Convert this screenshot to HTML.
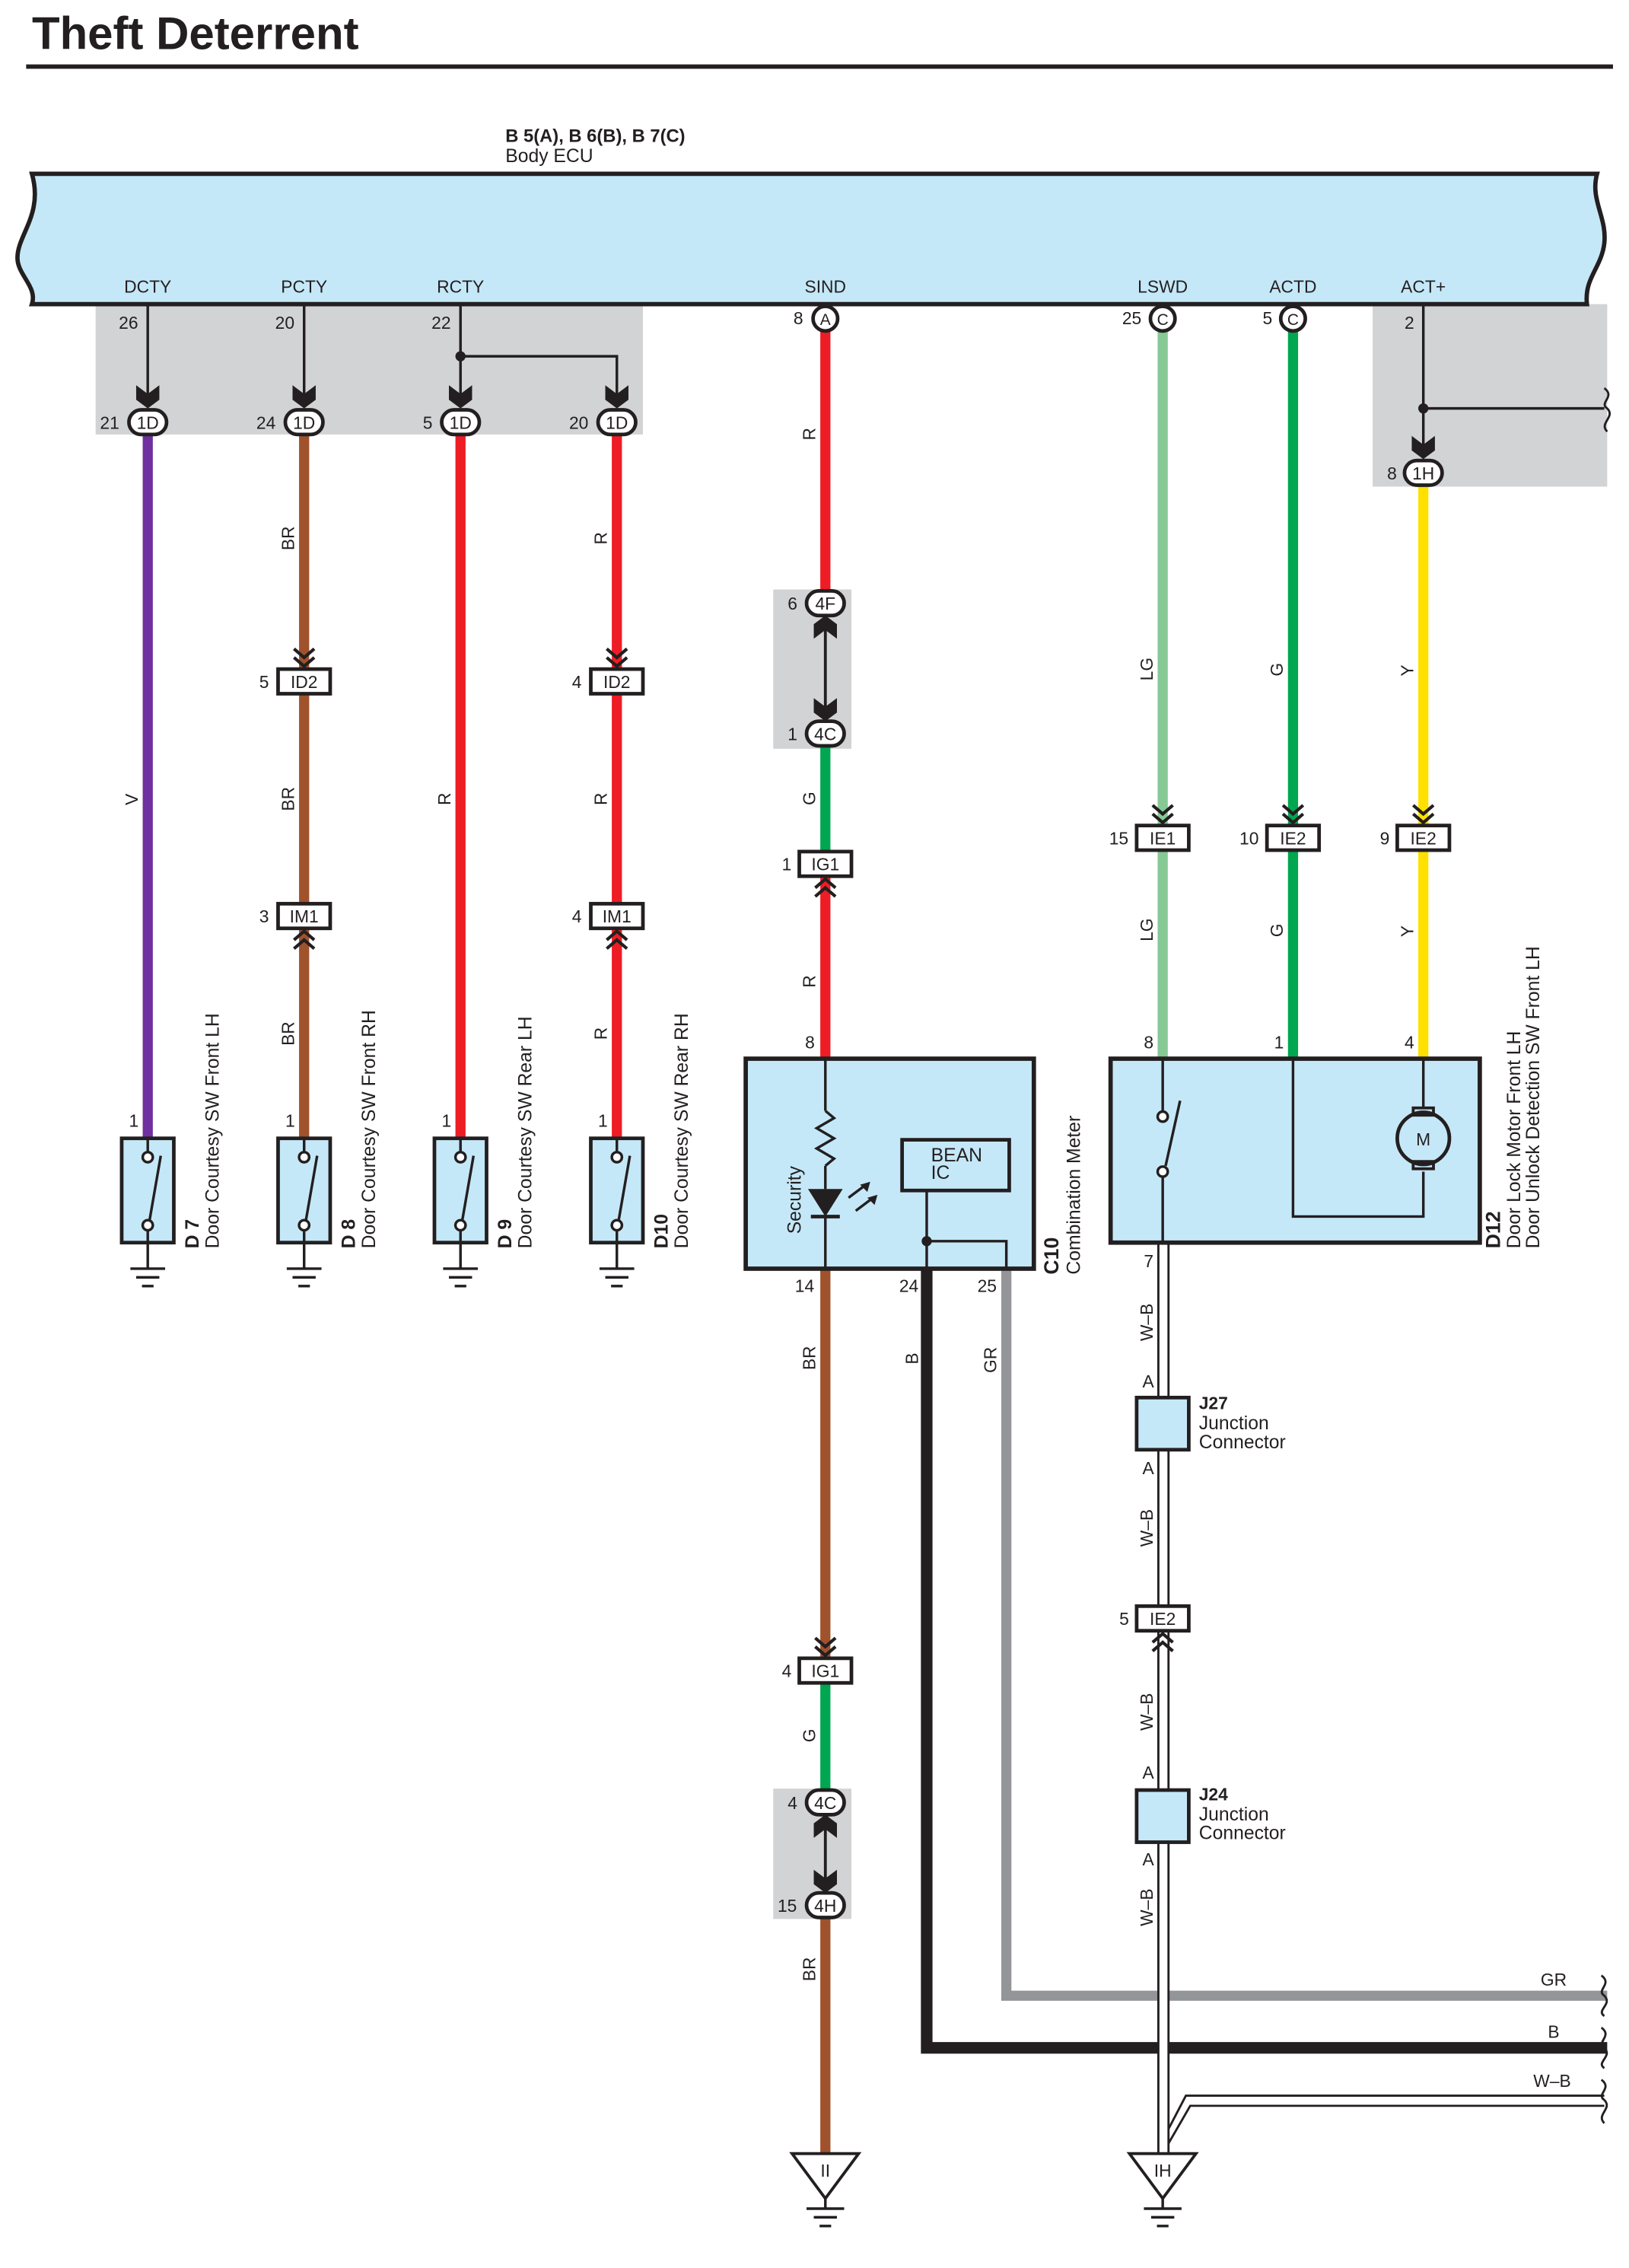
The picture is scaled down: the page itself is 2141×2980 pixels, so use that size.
<!DOCTYPE html>
<html><head><meta charset="utf-8"><style>
html,body{margin:0;padding:0;background:#fff}
svg{display:block}
text{font-family:"Liberation Sans",sans-serif;fill:#231f20}
.p{font-size:12px}
.w{font-size:12px}
.c{font-size:12px;text-anchor:middle}
.n{font-size:13px}
.b{font-size:13px;font-weight:bold}
</style></head><body>
<svg width="2141" height="2980" viewBox="0 0 1125 1566" xmlns="http://www.w3.org/2000/svg">
<defs>
<g id="chd"><polyline points="-7,-13 0,-7 7,-13" fill="none" stroke="#231f20" stroke-width="2.2"/><polyline points="-7,-7 0,-1 7,-7" fill="none" stroke="#231f20" stroke-width="2.2"/></g>
<g id="chu"><polyline points="-7,13 0,7 7,13" fill="none" stroke="#231f20" stroke-width="2.2"/><polyline points="-7,7 0,1 7,7" fill="none" stroke="#231f20" stroke-width="2.2"/></g>
<path id="arr" d="M-8,-16 L0,-10 L8,-16 L8,-6 L0,0 L-8,-6 Z" fill="#231f20"/>
<g id="sw"><rect x="-18" y="0" width="36" height="72" fill="#c5e8f8" stroke="#231f20" stroke-width="2.5"/><line x1="0" y1="0" x2="0" y2="9" stroke="#231f20" stroke-width="1.8"/><circle cx="0" cy="13" r="3.5" fill="#fff" stroke="#231f20" stroke-width="1.8"/><line x1="1" y1="58" x2="9" y2="12" stroke="#231f20" stroke-width="1.8"/><circle cx="0" cy="60" r="3.5" fill="#fff" stroke="#231f20" stroke-width="1.8"/><line x1="0" y1="64" x2="0" y2="90" stroke="#231f20" stroke-width="1.8"/><line x1="-12" y1="90" x2="12" y2="90" stroke="#231f20" stroke-width="1.8"/><line x1="-8" y1="96" x2="8" y2="96" stroke="#231f20" stroke-width="1.8"/><line x1="-4" y1="102" x2="4" y2="102" stroke="#231f20" stroke-width="1.8"/></g>
<g id="gnd"><polygon points="-23,0 23,0 0,31" fill="#fff" stroke="#231f20" stroke-width="2"/><line x1="0" y1="31" x2="0" y2="38" stroke="#231f20" stroke-width="1.8"/><line x1="-13" y1="38" x2="13" y2="38" stroke="#231f20" stroke-width="1.8"/><line x1="-8" y1="44" x2="8" y2="44" stroke="#231f20" stroke-width="1.8"/><line x1="-4" y1="50" x2="4" y2="50" stroke="#231f20" stroke-width="1.8"/></g>
</defs>

<text x="22" y="34" style="font-size:31.5px;font-weight:bold">Theft Deterrent</text>
<line x1="18" y1="46" x2="1114" y2="46" stroke="#231f20" stroke-width="3"/>

<text x="349" y="98" class="b" style="font-weight:bold;font-size:12.5px">B 5(A), B 6(B), B 7(C)</text>
<text x="349" y="112" class="n">Body ECU</text>

<rect x="66" y="210" width="378" height="90" fill="#d1d3d4"/>
<rect x="948" y="210" width="162" height="126" fill="#d1d3d4"/>
<rect x="534" y="407" width="54" height="110" fill="#d1d3d4"/>
<rect x="534" y="1235" width="54" height="90" fill="#d1d3d4"/>

<path d="M22,120 L1103,120 C1098,138 1110,150 1108,168 C1106,185 1094,192 1096,210 L22,210 C26,198 12,190 12,178 C12,162 30,148 22,120 Z" fill="#c5e8f8" stroke="#231f20" stroke-width="3"/>
<g class="c"><text x="102" y="202" class="c">DCTY</text><text x="210" y="202" class="c">PCTY</text><text x="318" y="202" class="c">RCTY</text><text x="570" y="202" class="c">SIND</text><text x="803" y="202" class="c">LSWD</text><text x="893" y="202" class="c">ACTD</text><text x="983" y="202" class="c">ACT+</text></g>

<g stroke="#231f20" stroke-width="1.8" fill="none">
<line x1="102" y1="211" x2="102" y2="272"/><line x1="210" y1="211" x2="210" y2="272"/><line x1="318" y1="211" x2="318" y2="272"/>
<polyline points="318,246 426,246 426,272"/>
<line x1="983" y1="211" x2="983" y2="308"/><polyline points="983,282 1108,282"/>
<path d="M1108,268 C1116,274 1104,278 1110,282 C1116,288 1104,292 1110,298" stroke-width="1.5"/>
</g>
<circle cx="318" cy="246" r="3.5" fill="#231f20"/><circle cx="983" cy="282" r="3.5" fill="#231f20"/>
<text x="82" y="227" class="p">26</text><text x="190" y="227" class="p">20</text><text x="298" y="227" class="p">22</text><text x="970" y="227" class="p">2</text>

<g stroke-width="7" fill="none">
<line x1="102" y1="300" x2="102" y2="786" stroke="#7030a0"/>
<line x1="210" y1="300" x2="210" y2="786" stroke="#a0522d"/>
<line x1="318" y1="300" x2="318" y2="786" stroke="#ee1c25"/>
<line x1="426" y1="300" x2="426" y2="786" stroke="#ee1c25"/>
<line x1="570" y1="229" x2="570" y2="410" stroke="#ee1c25"/>
<line x1="570" y1="514" x2="570" y2="592" stroke="#00a650"/>
<line x1="570" y1="600" x2="570" y2="732" stroke="#ee1c25"/>
<line x1="570" y1="876" x2="570" y2="1150" stroke="#a0522d"/>
<line x1="570" y1="1158" x2="570" y2="1240" stroke="#00a650"/>
<line x1="570" y1="1320" x2="570" y2="1488" stroke="#a0522d"/>
<polyline points="695,876 695,1378 1110,1378" stroke="#939598"/>
<polyline points="640,876 640,1414 1110,1414" stroke="#231f20" stroke-width="8"/>
<line x1="803" y1="229" x2="803" y2="732" stroke="#86c995"/>
<line x1="893" y1="229" x2="893" y2="732" stroke="#00a650"/>
<line x1="983" y1="335" x2="983" y2="732" stroke="#ffe000"/>
</g>
<g stroke="#231f20" stroke-width="1.5" fill="none">
<path d="M1106,1364 C1114,1370 1102,1374 1108,1378 C1114,1384 1102,1388 1108,1392"/>
<path d="M1106,1400 C1114,1406 1102,1410 1108,1414 C1114,1420 1102,1424 1108,1428"/>
<path d="M1106,1436 C1114,1442 1102,1446 1108,1450 C1114,1456 1102,1460 1108,1466"/>
</g>
<g>
<line x1="803.5" y1="858" x2="803.5" y2="1488" stroke="#fff" stroke-width="6"/>
<line x1="800" y1="858" x2="800" y2="1488" stroke="#231f20" stroke-width="1.5"/>
<line x1="807" y1="858" x2="807" y2="1488" stroke="#231f20" stroke-width="1.5"/>
<polyline points="807,1480 822,1454 1108,1454" fill="none" stroke="#231f20" stroke-width="1.5"/>
<polyline points="807,1470 819,1447 1108,1447" fill="none" stroke="#231f20" stroke-width="1.5"/>
</g>

<g>
<use href="#arr" x="102" y="282"/><use href="#arr" x="210" y="282"/><use href="#arr" x="318" y="282"/><use href="#arr" x="426" y="282"/><use href="#arr" x="983" y="317"/>
<g fill="#fff" stroke="#231f20" stroke-width="2.5">
<rect x="89" y="283" width="26" height="17" rx="8.5"/><rect x="197" y="283" width="26" height="17" rx="8.5"/><rect x="305" y="283" width="26" height="17" rx="8.5"/><rect x="413" y="283" width="26" height="17" rx="8.5"/><rect x="970" y="318" width="26" height="17" rx="8.5"/>
</g>
<text x="102" y="296" class="c">1D</text><text x="210" y="296" class="c">1D</text><text x="318" y="296" class="c">1D</text><text x="426" y="296" class="c">1D</text><text x="983" y="331" class="c">1H</text>
<text x="69" y="296" class="p">21</text><text x="177" y="296" class="p">24</text><text x="292" y="296" class="p">5</text><text x="393" y="296" class="p">20</text><text x="958" y="331" class="p">8</text>
</g>

<g fill="#fff" stroke="#231f20" stroke-width="2.5"><circle cx="570" cy="220" r="8.5"/><circle cx="803" cy="220" r="8.5"/><circle cx="893" cy="220" r="8.5"/></g>
<text x="570" y="224.5" class="c" style="font-size:11px">A</text><text x="803" y="224.5" class="c" style="font-size:11px">C</text><text x="893" y="224.5" class="c" style="font-size:11px">C</text>
<text x="548" y="224" class="p">8</text><text x="775" y="224" class="p">25</text><text x="872" y="224" class="p">5</text>

<g fill="#fff" stroke="#231f20" stroke-width="2.5">
<rect x="557" y="408" width="26" height="17" rx="8.5"/><rect x="557" y="498" width="26" height="17" rx="8.5"/>
<rect x="557" y="1236" width="26" height="17" rx="8.5"/><rect x="557" y="1307" width="26" height="17" rx="8.5"/>
</g>
<line x1="570" y1="425" x2="570" y2="498" stroke="#231f20" stroke-width="2"/>
<line x1="570" y1="1253" x2="570" y2="1307" stroke="#231f20" stroke-width="2"/>
<use href="#arr" x="570" y="498"/><use href="#arr" x="570" y="1307"/>
<g transform="translate(570,425) scale(1,-1)"><use href="#arr"/></g>
<g transform="translate(570,1253) scale(1,-1)"><use href="#arr"/></g>
<text x="570" y="421" class="c">4F</text><text x="570" y="511" class="c">4C</text><text x="570" y="1249" class="c">4C</text><text x="570" y="1320" class="c">4H</text>
<text x="544" y="421" class="p">6</text><text x="544" y="511" class="p">1</text><text x="544" y="1249" class="p">4</text><text x="537" y="1320" class="p">15</text>

<g fill="#fff" stroke="#231f20" stroke-width="2.5">
<rect x="192" y="462" width="36" height="17"/><rect x="408" y="462" width="36" height="17"/>
<rect x="192" y="624" width="36" height="17"/><rect x="408" y="624" width="36" height="17"/>
<rect x="552" y="588" width="36" height="17"/>
<rect x="785" y="570" width="36" height="17"/><rect x="875" y="570" width="36" height="17"/><rect x="965" y="570" width="36" height="17"/>
<rect x="552" y="1145" width="36" height="17"/>
<rect x="785" y="1109" width="36" height="17"/>
</g>
<use href="#chd" x="210" y="461"/><use href="#chd" x="426" y="461"/>
<use href="#chu" x="210" y="642"/><use href="#chu" x="426" y="642"/>
<use href="#chu" x="570" y="606"/>
<use href="#chd" x="803" y="569"/><use href="#chd" x="893" y="569"/><use href="#chd" x="983" y="569"/>
<use href="#chd" x="570" y="1144"/>
<use href="#chu" x="803" y="1127"/>
<text x="210" y="475" class="c">ID2</text><text x="426" y="475" class="c">ID2</text>
<text x="210" y="637" class="c">IM1</text><text x="426" y="637" class="c">IM1</text>
<text x="570" y="601" class="c">IG1</text>
<text x="803" y="583" class="c">IE1</text><text x="893" y="583" class="c">IE2</text><text x="983" y="583" class="c">IE2</text>
<text x="570" y="1158" class="c">IG1</text>
<text x="803" y="1122" class="c">IE2</text>
<text x="179" y="475" class="p">5</text><text x="395" y="475" class="p">4</text>
<text x="179" y="637" class="p">3</text><text x="395" y="637" class="p">4</text>
<text x="540" y="601" class="p">1</text>
<text x="766" y="583" class="p">15</text><text x="856" y="583" class="p">10</text><text x="953" y="583" class="p">9</text>
<text x="540" y="1158" class="p">4</text><text x="773" y="1122" class="p">5</text>

<g class="w">
<text transform="translate(95,556) rotate(-90)">V</text>
<text transform="translate(203,380) rotate(-90)">BR</text><text transform="translate(203,560) rotate(-90)">BR</text><text transform="translate(203,722) rotate(-90)">BR</text>
<text transform="translate(311,556) rotate(-90)">R</text>
<text transform="translate(419,376) rotate(-90)">R</text><text transform="translate(419,556) rotate(-90)">R</text><text transform="translate(419,718) rotate(-90)">R</text>
<text transform="translate(563,304) rotate(-90)">R</text><text transform="translate(563,556) rotate(-90)">G</text><text transform="translate(563,682) rotate(-90)">R</text>
<text transform="translate(563,946) rotate(-90)">BR</text><text transform="translate(634,942) rotate(-90)">B</text><text transform="translate(688,948) rotate(-90)">GR</text>
<text transform="translate(563,1203) rotate(-90)">G</text><text transform="translate(563,1368) rotate(-90)">BR</text>
<text transform="translate(796,470) rotate(-90)">LG</text><text transform="translate(796,650) rotate(-90)">LG</text>
<text transform="translate(886,467) rotate(-90)">G</text><text transform="translate(886,647) rotate(-90)">G</text>
<text transform="translate(976,467) rotate(-90)">Y</text><text transform="translate(976,647) rotate(-90)">Y</text>
<text transform="translate(796,926) rotate(-90)">W–B</text><text transform="translate(796,1068) rotate(-90)">W–B</text>
<text transform="translate(796,1195) rotate(-90)">W–B</text><text transform="translate(796,1330) rotate(-90)">W–B</text>
<text x="1064" y="1371">GR</text><text x="1069" y="1407">B</text><text x="1059" y="1441">W–B</text>
</g>

<use href="#sw" x="102" y="786"/><use href="#sw" x="210" y="786"/><use href="#sw" x="318" y="786"/><use href="#sw" x="426" y="786"/>
<text x="89" y="778" class="p">1</text><text x="197" y="778" class="p">1</text><text x="305" y="778" class="p">1</text><text x="413" y="778" class="p">1</text>
<g class="n">
<text transform="translate(137,862) rotate(-90)"><tspan font-weight="bold">D 7</tspan></text><text transform="translate(151,862) rotate(-90)">Door Courtesy SW Front LH</text>
<text transform="translate(245,862) rotate(-90)"><tspan font-weight="bold">D 8</tspan></text><text transform="translate(259,862) rotate(-90)">Door Courtesy SW Front RH</text>
<text transform="translate(353,862) rotate(-90)"><tspan font-weight="bold">D 9</tspan></text><text transform="translate(367,862) rotate(-90)">Door Courtesy SW Rear LH</text>
<text transform="translate(461,862) rotate(-90)"><tspan font-weight="bold">D10</tspan></text><text transform="translate(475,862) rotate(-90)">Door Courtesy SW Rear RH</text>
</g>

<rect x="515" y="731" width="199" height="145" fill="#c5e8f8" stroke="#231f20" stroke-width="3"/>
<g stroke="#231f20" stroke-width="1.8" fill="none">
<line x1="570" y1="731" x2="570" y2="767"/>
<polyline points="570,767 576,772 564,779 576,786 564,793 576,800 570,805"/>
<line x1="570" y1="805" x2="570" y2="821"/>
<line x1="570" y1="840" x2="570" y2="876"/>
<line x1="560" y1="840" x2="580" y2="840" stroke-width="2.5"/>
<line x1="640" y1="822" x2="640" y2="876"/>
<polyline points="640,857 695,857 695,876"/>
<line x1="586" y1="827" x2="598" y2="818"/><line x1="591" y1="836" x2="603" y2="827"/>
</g>
<polygon points="558,821 582,821 570,840" fill="#231f20"/>
<polygon points="601,816 594,818 599,823" fill="#231f20"/><polygon points="606,825 599,827 604,832" fill="#231f20"/>
<circle cx="640" cy="857" r="3.5" fill="#231f20"/>
<rect x="623" y="787" width="74" height="35" fill="#c5e8f8" stroke="#231f20" stroke-width="2.5"/>
<text x="643" y="802" class="n">BEAN</text><text x="643" y="814" class="n">IC</text>
<text transform="translate(553,852) rotate(-90)" class="n">Security</text>
<text x="556" y="724" class="p">8</text><text x="549" y="892" class="p">14</text><text x="621" y="892" class="p">24</text><text x="675" y="892" class="p">25</text>
<text transform="translate(731,880) rotate(-90)" class="b" style="font-size:14px">C10</text>
<text transform="translate(746,880) rotate(-90)" class="n">Combination Meter</text>

<rect x="767" y="731" width="255" height="127" fill="#c5e8f8" stroke="#231f20" stroke-width="3"/>
<g stroke="#231f20" stroke-width="1.8" fill="none">
<line x1="803" y1="731" x2="803" y2="767"/><circle cx="803" cy="771" r="3.5" fill="#fff"/>
<line x1="805" y1="805" x2="815" y2="760"/><circle cx="803" cy="809" r="3.5" fill="#fff"/>
<line x1="803" y1="813" x2="803" y2="858"/>
<polyline points="893,731 893,840 983,840 983,809"/>
<line x1="983" y1="731" x2="983" y2="765"/>
<circle cx="983" cy="786" r="18" stroke-width="2.5" fill="#c5e8f8"/>
<rect x="976" y="765" width="14" height="5" stroke-width="2"/><rect x="976" y="802" width="14" height="5" stroke-width="2"/>
</g>
<text x="983" y="791" class="c">M</text>
<text x="790" y="724" class="p">8</text><text x="880" y="724" class="p">1</text><text x="970" y="724" class="p">4</text><text x="790" y="875" class="p">7</text>
<text transform="translate(1036,862) rotate(-90)" class="b" style="font-size:14px">D12</text>
<text transform="translate(1050,862) rotate(-90)" class="n">Door Lock Motor Front LH</text>
<text transform="translate(1063,862) rotate(-90)" class="n">Door Unlock Detection SW Front LH</text>

<rect x="785" y="965" width="36" height="36" fill="#c5e8f8" stroke="#231f20" stroke-width="2.5"/>
<rect x="785" y="1236" width="36" height="36" fill="#c5e8f8" stroke="#231f20" stroke-width="2.5"/>
<text x="789" y="958" class="p">A</text><text x="789" y="1018" class="p">A</text>
<text x="789" y="1228" class="p">A</text><text x="789" y="1288" class="p">A</text>
<text x="828" y="973" class="b" style="font-size:12px">J27</text><text x="828" y="987" class="n">Junction</text><text x="828" y="1000" class="n">Connector</text>
<text x="828" y="1243" class="b" style="font-size:12px">J24</text><text x="828" y="1257" class="n">Junction</text><text x="828" y="1270" class="n">Connector</text>

<use href="#gnd" x="570" y="1487"/><use href="#gnd" x="803" y="1487"/>
<text x="570" y="1503" class="c">II</text><text x="803" y="1503" class="c">IH</text>
</svg>
</body></html>
